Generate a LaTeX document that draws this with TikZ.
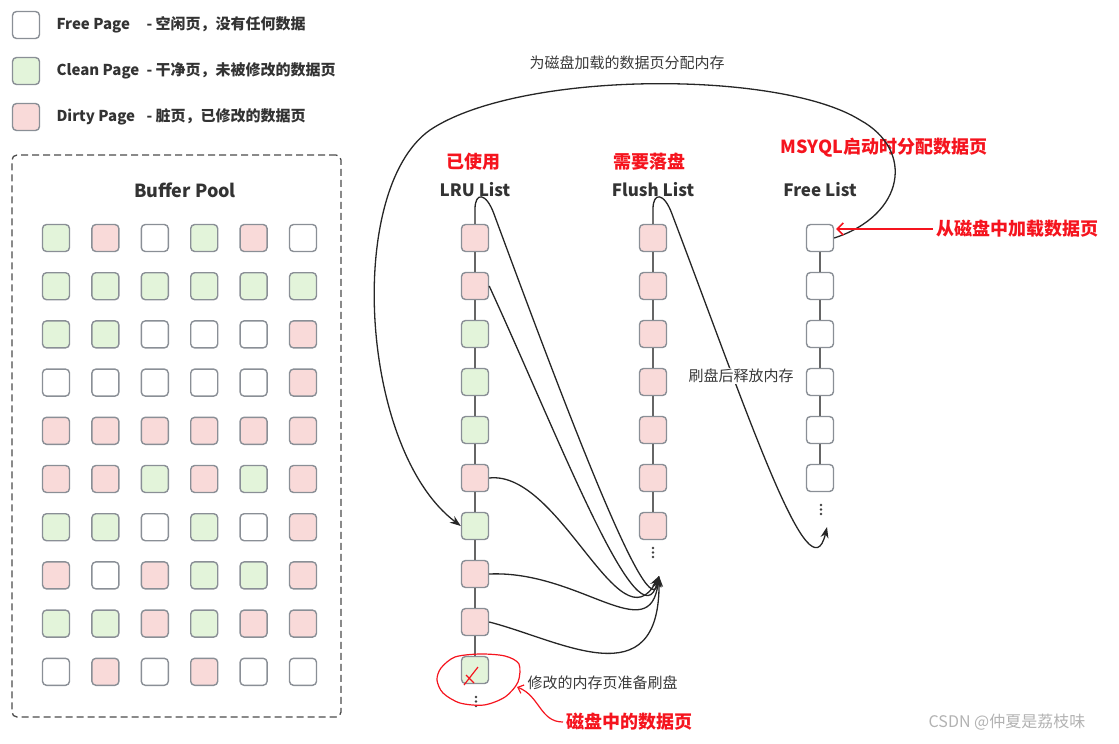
\documentclass[tikz,border=0pt]{standalone}
\usepackage{fontspec}
\setmainfont{Noto Sans CJK SC}
\usetikzlibrary{arrows.meta}
\definecolor{G}{HTML}{E3F4DA}
\definecolor{P}{HTML}{F9DAD9}
\definecolor{W}{HTML}{FFFFFF}
\definecolor{edgegray}{HTML}{8A8F96}
\definecolor{hotred}{HTML}{F5141E}
\definecolor{txtgray}{HTML}{3A3A3A}

\begin{document}
\begin{tikzpicture}[x=1pt,y=-1pt,
		page/.style={draw=edgegray,line width=1.4pt,rounded corners=4pt,minimum size=27pt,inner sep=0pt},
		chain/.style={draw=black!60,line width=1.2pt},
		link/.style={draw=black!85,line width=1.3pt},
		tip/.style={-{Stealth[length=11pt,width=8pt]}},
		head/.style={font=\fontsize{17}{20}\selectfont\bfseries,text=black!80},
		redtag/.style={font=\fontsize{18}{21}\selectfont\bfseries,text=hotred},
		note/.style={font=\fontsize{15}{18}\selectfont,text=txtgray},
		legend/.style={font=\fontsize{15}{18}\selectfont\bfseries,text=black!80,anchor=west}]
			\useasboundingbox (0,0) rectangle (1119,744);
			\node[page,fill=W] (lgfree) at (26,25) {};
			\node[page,fill=G] (lgclean) at (26,71) {};
			\node[page,fill=P] (lgdirty) at (26,117) {};
			\node[legend] (lgfreetxt) at (53,25) {\makebox[90pt][l]{Free Page}- 空闲页，没有任何数据};
			\node[legend] (lgcleantxt) at (53,71) {\makebox[90pt][l]{Clean Page}- 干净页，未被修改的数据页};
			\node[legend] (lgdirtytxt) at (53,117) {\makebox[90pt][l]{Dirty Page}- 脏页，已修改的数据页};
			\node[draw=black!70,line width=1.3pt,dash pattern=on 7pt off 4pt,rounded corners=5pt,
				minimum width=329pt,minimum height=562pt] (pool) at (176.5,436) {};
			\node[head,font=\fontsize{18}{21}\selectfont\bfseries] (pooltitle) at (185,190) {Buffer Pool};
			\foreach \row [count=\r from 0] in {{G,P,W,G,P,W},{G,G,G,G,G,G},{G,G,W,W,W,P},{W,W,W,W,W,P},{P,P,P,P,P,P},
				{P,P,G,P,G,P},{G,G,W,G,W,P},{P,W,P,G,G,P},{G,G,P,G,P,P},{W,P,W,P,W,W}}
				\foreach \c [count=\k from 0] in \row
					\node[page,fill=\c] (bp-\r-\k) at (56+49.4*\k,238+48.2*\r) {};
			% the three lists
			\foreach \c [count=\i from 0] in {P,P,G,G,G,P,G,P,P,G}
				\node[page,fill=\c] (lru\i) at (475,238+48*\i) {};
			\foreach \i in {0,...,6}
				\node[page,fill=P] (fl\i) at (653,238+48*\i) {};
			\foreach \i in {0,...,5}
				\node[page,fill=W] (fr\i) at (820,238+48*\i) {};
			\foreach \i [count=\j from 1] in {0,...,8}
				\draw[chain] (lru\i) -- (lru\j);
			\foreach \i [count=\j from 1] in {0,...,5}
				\draw[chain] (fl\i) -- (fl\j);
			\foreach \i [count=\j from 1] in {0,...,4}
				\draw[chain] (fr\i) -- (fr\j);
			\foreach \x/\y in {476/697,653/548,821/505}
				\foreach \d in {0,4.5,9}
					\fill[black!75] (\x,\y+\d) circle (1.3);
			\node[head] (lruhead) at (475,190) {LRU List};
			\node[head] (flhead) at (653,190) {Flush List};
			\node[head] (frhead) at (820,190) {Free List};
			\node[redtag] (usedtag) at (473,162) {已使用};
			\node[redtag] (flushtag) at (649,162) {需要落盘};
			\node[redtag] (inittag) at (884,148) {MSYQL启动时分配数据页};
			\node[redtag,anchor=west] (loadtag) at (933,229) {从磁盘中加载数据页};
			\node[redtag,anchor=west] (disktag) at (563,722) {磁盘中的数据页};
			\coordinate (fltip) at (659,576);
			\coordinate (frtip) at (827,527);
			% flushing dirty pages
			\draw[link,tip] (lru0.north) -- (475,209) .. controls (475,192) and (486,192) .. (494,214)
				.. controls (570,420) and (650,630) .. (fltip);
			\draw[link,tip] (lru1.east) .. controls (560,440) and (640,650) .. (fltip);
			\draw[link,tip] (lru5.east) .. controls (560,470) and (620,650) .. (fltip);
			\draw[link,tip] (lru7.east) .. controls (580,570) and (650,650) .. (fltip);
			\draw[link,tip] (lru8.east) .. controls (560,640) and (660,700) .. (fltip);
			\draw[link,tip] (fl0.north) -- (653,209) .. controls (653,192) and (664,192) .. (672,214)
				.. controls (750,420) and (810,600) .. (frtip);
			\draw[link,tip] (fr0.east) .. controls (905,215) and (915,150) .. (860,120)
				.. controls (780,70) and (520,70) .. (430,130)
				.. controls (345,190) and (360,450) .. (lru6.west);
			\node[note] (alloctxt) at (627,63) {为磁盘加载的数据页分配内存};
			\node[note,fill=white,inner sep=1pt] (freetxt) at (741,376) {刷盘后释放内存};
			\node[note,anchor=west] (dirtytxt) at (524,683) {修改的内存页准备刷盘};
			\node[font=\fontsize{16}{18}\selectfont,text=black!30] (mark) at (1007,722) {CSDN @仲夏是荔枝味};
			% red marks
			\draw[hotred,line width=1.5pt,-{Straight Barb[length=6pt,width=12pt]}] (loadtag.west) -- ([xshift=2pt]fr0.east |- loadtag.west);
			\draw[hotred,line width=1.2pt] plot[smooth cycle] coordinates {(441,668) (455,657) (480,654) (505,656) (519,664)
				(518,682) (505,697) (484,705) (460,703) (443,693) (437,680)};
			\draw[hotred,line width=1.2pt] (464,685) -- (478,667) (466,675) -- (474,683);
			\draw[hotred,line width=1.2pt,-{Straight Barb[length=5pt,width=9pt]}] (disktag.west) .. controls (540,722) and (540,696) .. (517,687);
		\end{tikzpicture}
\end{document}
